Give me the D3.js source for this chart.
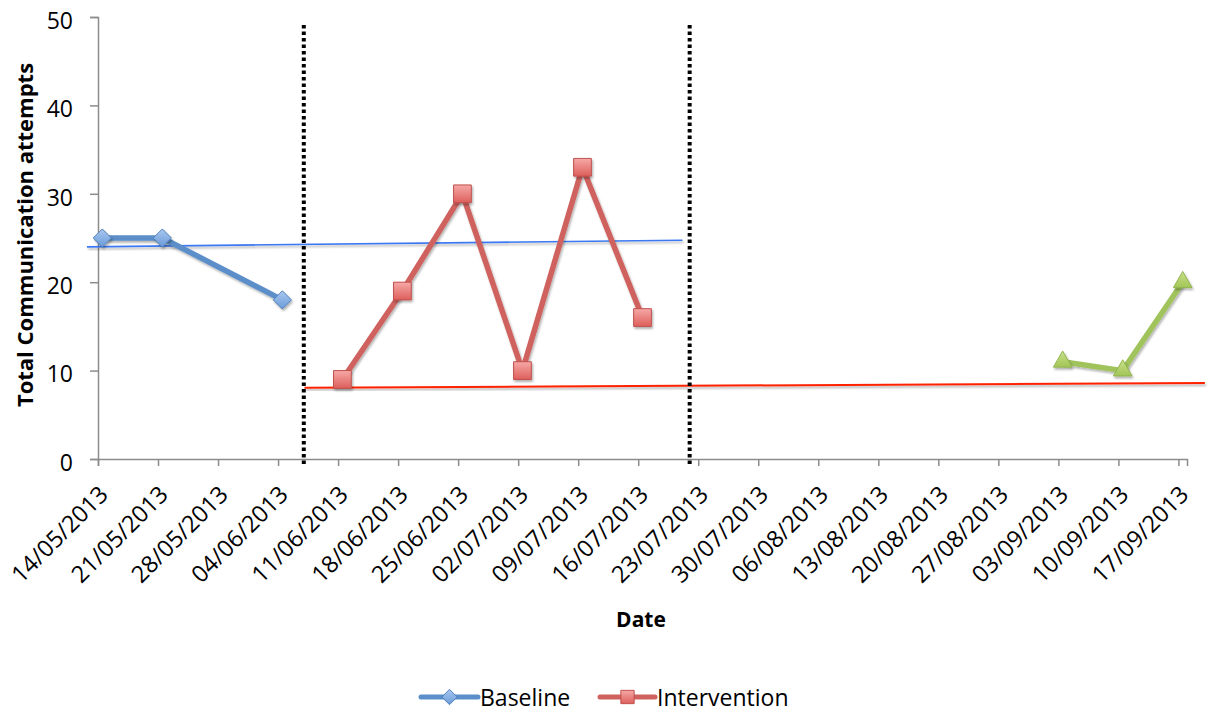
<!DOCTYPE html>
<html>
<head>
<meta charset="utf-8">
<script src="https://cdn.jsdelivr.net/npm/d3@7"></script>
<style>
  html, body { margin: 0; padding: 0; background: #fff; }
  svg { display: block; }
  svg text { font-family: "Open Sans", "Lato", sans-serif; }
</style>
</head>
<body>
<svg id="chart" width="1216" height="713"></svg>
<script>
// ---------- DATA ----------
const tickLabels = ["14/05/2013","21/05/2013","28/05/2013","04/06/2013","11/06/2013","18/06/2013",
  "25/06/2013","02/07/2013","09/07/2013","16/07/2013","23/07/2013","30/07/2013","06/08/2013",
  "13/08/2013","20/08/2013","27/08/2013","03/09/2013","10/09/2013","17/09/2013"];
const yTicks = [0, 10, 20, 30, 40, 50];

const baselineDates = ["14/05/2013","21/05/2013","04/06/2013"];
const baselineValues = [25, 25, 18];

const interventionDates = ["11/06/2013","18/06/2013","25/06/2013","02/07/2013","09/07/2013","16/07/2013"];
const interventionValues = [9, 19, 30, 10, 33, 16];

const followupDates = ["03/09/2013","10/09/2013","17/09/2013"];
const followupValues = [11, 10, 20];

// phase-change lines
const phaseDates = ["07/06/2013","22/07/2013"];

// trend lines [start date, end date] and [start value, end value]
const blueTrendDates = ["12/05/2013 17:00","21/07/2013 04:00"];
const blueTrendValues = [24.0, 24.75];
const redTrendDates = ["07/06/2013 02:00","20/09/2013 02:00"];
const redTrendValues = [8.05, 8.6];

const legendNames = ["Baseline","Intervention"];

// ---------- SETUP ----------
const parse = d3.utcParse("%d/%m/%Y");
const parseT = d3.utcParse("%d/%m/%Y %H:%M");
const halfDay = 12 * 3600 * 1000;

const svg = d3.select("#chart");
const x = d3.scaleUtc()
  .domain([parse("14/05/2013"), d3.utcDay.offset(parse("17/09/2013"), 1)])
  .range([98, 1187]);
const y = d3.scaleLinear().domain([0, 50]).range([459, 17]);

const axisColor = "#8c8c8c";

// defs: gradients + shadow
const defs = svg.append("defs");
const f = defs.append("filter").attr("id", "shadow").attr("x", "-50%").attr("y", "-50%").attr("width", "200%").attr("height", "200%");
f.append("feDropShadow").attr("dx", 1.2).attr("dy", 2).attr("stdDeviation", 1.3).attr("flood-color", "#000").attr("flood-opacity", 0.3);

function grad(id, c1, c2) {
  const g = defs.append("linearGradient").attr("id", id).attr("x1", 0).attr("y1", 0).attr("x2", 0).attr("y2", 1);
  g.append("stop").attr("offset", "0%").attr("stop-color", c1);
  g.append("stop").attr("offset", "100%").attr("stop-color", c2);
}
grad("gBlue", "#a9c8ef", "#6a9bd8");
grad("gRed", "#f6a9a7", "#dd5f5b");
grad("gGreen", "#c8e08a", "#a2c556");

// ---------- AXES ----------
const yAxis = d3.axisLeft(y).tickValues(yTicks).tickSize(8).tickPadding(17);
const gy = svg.append("g").attr("transform", `translate(${x.range()[0]},0)`).call(yAxis)
  .attr("font-family", null);
gy.select(".domain").attr("stroke", axisColor).attr("stroke-width", 1.5);
gy.selectAll(".tick line").attr("stroke", axisColor).attr("stroke-width", 1.5);
gy.selectAll(".tick text").attr("font-size", 23).attr("fill", "#000").attr("dy", "0.49em");

const xTickDates = tickLabels.map(parse);
const xAxis = d3.axisBottom(x).tickValues(xTickDates).tickSize(7).tickFormat((d, i) => tickLabels[i]);
const gx = svg.append("g").attr("transform", `translate(0,${y(0)})`).call(xAxis)
  .attr("font-family", null);
gx.select(".domain").attr("stroke", axisColor).attr("stroke-width", 1.5);
gx.selectAll(".tick line").attr("stroke", axisColor).attr("stroke-width", 1.5);
gx.selectAll(".tick text")
  .attr("font-size", 23.5).attr("fill", "#000")
  .attr("text-anchor", "end")
  .attr("dy", 0).attr("y", 0)
  .attr("transform", "translate(11,37) rotate(-45)");

// axis titles
svg.append("text").attr("x", 641).attr("y", 627).attr("text-anchor", "middle")
  .attr("font-size", 21).attr("font-weight", "bold").text("Date");
svg.append("text").attr("transform", "translate(33,235) rotate(-90)").attr("text-anchor", "middle")
  .attr("font-size", 22).attr("font-weight", "bold").text("Total Communication attempts");

// ---------- TREND LINES ----------
const lineT = d3.line().x(d => x(d[0])).y(d => y(d[1]));
svg.append("path")
  .datum(blueTrendDates.map((d, i) => [parseT(d), blueTrendValues[i]]))
  .attr("d", lineT).attr("fill", "none").attr("stroke", "#3b78f2").attr("stroke-width", 1.6)
  .attr("filter", "url(#shadow)");
svg.append("path")
  .datum(redTrendDates.map((d, i) => [parseT(d), redTrendValues[i]]))
  .attr("d", lineT).attr("fill", "none").attr("stroke", "#ff2200").attr("stroke-width", 2)
  .attr("filter", "url(#shadow)");

// ---------- PHASE LINES ----------
svg.selectAll(".phase").data(phaseDates.map(parse)).join("line")
  .attr("class", "phase")
  .attr("x1", d => x(d)).attr("x2", d => x(d))
  .attr("y1", y(50) + 8).attr("y2", y(0) + 5)
  .attr("stroke", "#000").attr("stroke-width", 4).attr("stroke-dasharray", "3.5,3");

// ---------- SERIES ----------
const line = d3.line().x(d => x(new Date(d.date.getTime() + halfDay))).y(d => y(d.value));
function series(dates, values, color, symbolType, size, fillId, stroke) {
  const data = dates.map((d, i) => ({ date: parse(d), value: values[i] }));
  const g = svg.append("g");
  g.append("path").datum(data).attr("d", line).attr("fill", "none")
    .attr("stroke", color).attr("stroke-width", 5.5).attr("stroke-linejoin", "round")
    .attr("filter", "url(#shadow)");
  g.selectAll("path.m").data(data).join("path").attr("class", "m")
    .attr("transform", d => `translate(${x(new Date(d.date.getTime() + halfDay))},${y(d.value)})`)
    .attr("d", d3.symbol().type(symbolType).size(size))
    .attr("fill", `url(#${fillId})`).attr("stroke", stroke).attr("stroke-width", 1)
    .attr("filter", "url(#shadow)");
}
series(baselineDates, baselineValues, "#5b8fc9", d3.symbolDiamond2, 210, "gBlue", "#4f81bd");
series(interventionDates, interventionValues, "#cf625e", d3.symbolSquare2, 400, "gRed", "#c0504d");
series(followupDates, followupValues, "#a0c35c", d3.symbolTriangle2, 250, "gGreen", "#93b650");

// ---------- LEGEND ----------
const legend = svg.append("g").attr("transform", "translate(0,697)");
const legendItems = [
  { name: legendNames[0], x0: 421, x1: 478, color: "#5b8fc9", sym: d3.symbolDiamond2, size: 150, fill: "gBlue", stroke: "#4f81bd" },
  { name: legendNames[1], x0: 600, x1: 655, color: "#cf625e", sym: d3.symbolSquare2, size: 225, fill: "gRed", stroke: "#c0504d" }
];
legendItems.forEach(it => {
  legend.append("line").attr("x1", it.x0).attr("x2", it.x1).attr("y1", 0).attr("y2", 0)
    .attr("stroke", it.color).attr("stroke-width", 5).attr("stroke-linecap", "round");
  legend.append("path").attr("transform", `translate(${(it.x0 + it.x1) / 2},0)`)
    .attr("d", d3.symbol().type(it.sym).size(it.size))
    .attr("fill", `url(#${it.fill})`).attr("stroke", it.stroke).attr("stroke-width", 1);
  legend.append("text").attr("x", it.x1 + 2).attr("y", 9)
    .attr("font-size", 23).attr("fill", "#000").text(it.name);
});
</script>
</body>
</html>
